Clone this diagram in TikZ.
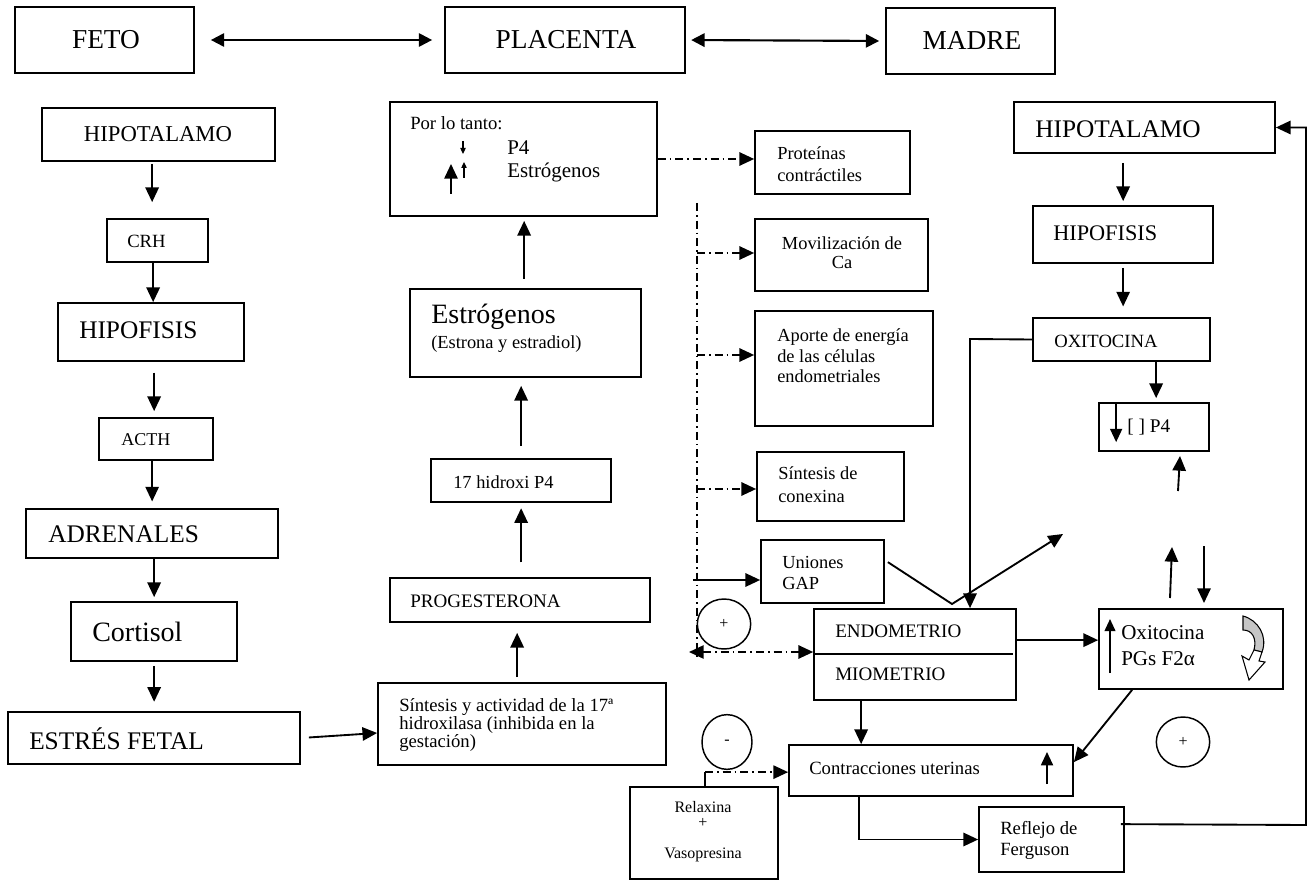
\documentclass[tikz,border=0pt]{standalone}
\usepackage{fontspec}
\setmainfont{Liberation Serif}
\usetikzlibrary{arrows.meta,fit,calc,shapes.geometric}
\newcommand\myfs[2]{\fontsize{#1}{#2}\selectfont}
\tikzset{
  box/.style={draw, line width=1.3pt, inner sep=0pt},
  arr/.style={line width=1.4pt, -{Triangle[length=11pt,width=10pt]}},
  darr/.style={line width=1.6pt, {Triangle[length=10pt,width=10pt]}-{Triangle[length=10pt,width=10pt]}},
  dd/.style={line width=1.2pt, dash pattern=on 6pt off 3pt on 1.2pt off 3pt},
  dda/.style={dd, -{Triangle[length=11pt,width=10pt]}},
  ddb/.style={dd, {Triangle[length=11pt,width=10pt]}-{Triangle[length=11pt,width=10pt]}},
  tx/.style={inner sep=0pt, anchor=west, align=left},
  tc/.style={inner sep=0pt, align=center},
  sign/.style={ellipse, draw, line width=1.1pt, inner sep=0pt, font={\myfs{12}{14}}},
}
\begin{document}
\begin{tikzpicture}[x=0.75pt, y=-0.75pt]
\useasboundingbox (0,0) rectangle (1313,880);

% ---------- top row ----------
\node[box, fit={(15,7)(194,73)}] (feto) {};
\node[tc, font={\myfs{20.5}{24}}] at (106,40) {FETO};
\node[box, fit={(445,7)(685,73)}] (plac) {};
\node[tc, font={\myfs{20.5}{24}}] at (566,40) {PLACENTA};
\node[box, fit={(886,8)(1055,74)}] (madre) {};
\node[tc, font={\myfs{20.5}{24}}] at (972,41) {MADRE};
\draw[darr, shorten <=12pt, shorten >=9pt] (feto.east) -- (plac.west);
\draw[darr, shorten <=4pt, shorten >=4.5pt] (plac.east) -- (madre.west);

% ---------- left column (feto) ----------
\node[box, fit={(42,108)(275,161)}] (hipL) {};
\node[tc, font={\myfs{17}{20}}] at (158,134) {HIPOTALAMO};
\node[box, fit={(107,219)(208,262)}] (crh) {};
\node[tx, font={\myfs{14}{16}}] at (127,241) {CRH};
\node[box, fit={(58,303)(244,361)}] (hipfL) {};
\node[tx, font={\myfs{19}{22}}] at (79,330) {HIPOFISIS};
\node[box, fit={(99,418)(213,460)}] (acth) {};
\node[tx, font={\myfs{13.5}{16}}] at (121,440) {ACTH};
\node[box, fit={(26,509)(278,558)}] (adren) {};
\node[tx, font={\myfs{19}{22}}] at (48,534) {ADRENALES};
\node[box, fit={(71,602)(237,661)}] (cort) {};
\node[tx, font={\myfs{21}{24}}] at (92,632) {Cortisol};
\node[box, fit={(8,712)(300,764)}] (estres) {};
\node[tx, font={\myfs{19}{22}}] at (29,739) {ESTRÉS FETAL};

\coordinate (l1) at ($(hipL.south west)+(111,0)$);
\draw[arr, shorten <=1.5pt, shorten >=12pt] (l1) -- (l1 |- crh.north);
\coordinate (l2) at ($(crh.south west)+(47,0)$);
\draw[arr] (l2) -- (l2 |- hipfL.north);
\coordinate (l3) at ($(hipfL.south west)+(97,0)$);
\draw[arr, shorten <=8pt, shorten >=4.5pt] (l3) -- (l3 |- acth.north);
\coordinate (l4) at ($(acth.south west)+(54,0)$);
\draw[arr, shorten >=5pt] (l4) -- (l4 |- adren.north);
\coordinate (l5) at ($(adren.south west)+(129,0)$);
\draw[arr, shorten >=3pt] (l5) -- (l5 |- cort.north);
\coordinate (l6) at ($(cort.south west)+(84,0)$);
\draw[arr, shorten <=3pt, shorten >=7pt] (l6) -- (l6 |- estres.north);

% ---------- centre column (placenta) ----------
\node[box, fit={(378,683)(666,765)}] (sint) {};
\node[tx, font={\myfs{14}{13.6}}] at (399,725) {Síntesis y actividad de la 17ª\\hidroxilasa (inhibida en la\\gestación)};
\node[box, fit={(390,578)(650,622)}] (prog) {};
\node[tx, font={\myfs{14.3}{16}}] at (410,601) {PROGESTERONA};
\node[box, fit={(431,459)(611,502)}] (hid) {};
\node[tx, font={\myfs{13.8}{16}}] at (453,482) {17 hidroxi P4};
\node[box, fit={(410,289)(641,377)}] (estrog) {};
\node[tx, font={\myfs{21}{24}}] at (431,317) {Estrógenos};
\node[tx, font={\myfs{13.8}{16}}] at (431,344) {(Estrona y estradiol)};
\node[box, fit={(390,102)(657,216)}] (ptanto) {};
\node[tx, font={\myfs{14}{15}}] at (410,123) {Por lo tanto:};
\node[tx, font={\myfs{15.7}{18}}] at (507,148) {P4};
\node[tx, font={\myfs{15.7}{18}}] at (507,172) {Estrógenos};
\draw[line width=0.9pt, -{Triangle[length=4.5pt,width=4pt]}] (463,141) -- (463,154);
\draw[line width=0.9pt, -{Triangle[length=4.5pt,width=4pt]}] (464,178) -- (464,162);
\draw[line width=1.4pt, -{Triangle[length=11pt,width=10pt]}] (451,194) -- (451,164);

\draw[arr, shorten <=3.75pt, shorten >=7.5pt] ($(sint.north west)+(140,0)$) -- ($(prog.south west)+(128,0)$);
\draw[arr, shorten <=11pt, shorten >=4pt] ($(prog.north west)+(132,0)$) -- ($(hid.south west)+(91,0)$);
\draw[arr, shorten <=9pt, shorten >=6pt] ($(hid.north west)+(91,0)$) -- ($(estrog.south west)+(112,0)$);
\draw[arr, shorten <=7pt, shorten >=3pt] ($(estrog.north west)+(115,0)$) -- ($(ptanto.south west)+(135,0)$);
\draw[arr, shorten <=6pt] (estres.east) -- ($(sint.west)+(0,9)$);

% ---------- effects column ----------
\node[box, fit={(755,131)(910,194)}] (prot) {};
\node[tx, font={\myfs{13.8}{16.5}}] at (777,164) {Proteínas\\contráctiles};
\node[box, fit={(755,219)(928,291)}] (movil) {};
\node[tc, font={\myfs{13.8}{14.5}}] at (842,253) {Movilización de\\Ca};
\node[box, fit={(755,311)(933,426)}] (aporte) {};
\node[tx, font={\myfs{13.8}{15.4}}] at (777,356) {Aporte de energía\\de las células\\endometriales};
\node[box, fit={(757,452)(904,521)}] (conex) {};
\node[tx, font={\myfs{13.8}{17}}] at (778,485) {Síntesis de\\conexina};
\node[box, fit={(761,540)(884,603)}] (gap) {};
\node[tx, font={\myfs{13.8}{15.5}}] at (782,573) {Uniones\\GAP};

\draw[dda] (ptanto.east) -- (ptanto.east -| prot.west);
\coordinate (vtop) at (697,203);
\coordinate (vbot) at (697,660);
\draw[dd] (vtop) -- (vbot);
\coordinate (a2) at (697,253);
\draw[dda] (a2) -- (a2 -| movil.west);
\coordinate (a3) at (697,355);
\draw[dda] (a3) -- (a3 -| aporte.west);
\coordinate (a4) at (697,489);
\draw[dda] (a4) -- (a4 -| conex.west);
\coordinate (a5) at (693,580);
\draw[arr] (a5) -- (a5 -| gap.west);

\node[sign, minimum width=40pt, minimum height=37.5pt] (cplus) at (724,624) {+};
\node[sign, minimum width=37.5pt, minimum height=41pt] (cminus) at (727,742) {-};
\node[sign, minimum width=40pt, minimum height=37.5pt] (cplus2) at (1183,742) {+};

% ---------- uterus ----------
\node[box, fit={(814,609)(1016,700)}] (endo) {};
\draw[line width=1.3pt] ($(endo.north west)+(0,46)$) -- ($(endo.north east)+(-4,46)$);
\node[tx, font={\myfs{14.3}{16}}] at (835,631) {ENDOMETRIO};
\node[tx, font={\myfs{14.3}{16}}] at (835,674) {MIOMETRIO};
\coordinate (dl) at (689,652);
\draw[ddb] (dl) -- (dl -| endo.west);

\node[box, fit={(1099,609)(1283,689)}] (oxb) {};
\node[tx, font={\myfs{15.8}{19.5}}] at (1121,646) {Oxitocina\\PGs F2α};
\draw[line width=1.3pt, -{Triangle[length=9pt,width=8pt]}] (1110,673) -- (1110,619);
\filldraw[fill=gray!45, line width=0.8pt] (1243,616) .. controls (1258,620) and (1268,636) .. (1262,652) -- (1254,650) .. controls (1257,638) and (1252,630) .. (1243,630) -- cycle;
\draw[fill=white, line width=0.8pt] (1262,652) -- (1259,661) -- (1265,662) -- (1249,680) -- (1242,656) -- (1249,660) -- (1254,650) -- cycle;

\draw[arr] ($(endo.north east)+(0,32)$) -- ($(oxb.north west)+(0,32)$);

\node[box, fit={(789,745)(1073,796)}] (contr) {};
\node[tx, font={\myfs{14}{16}}] at (809,768) {Contracciones uterinas};
\draw[line width=1.4pt, -{Triangle[length=10pt,width=9pt]}] (1047,784) -- (1047,752);
\coordinate (e1) at ($(endo.south west)+(48,0)$);
\draw[arr] (e1) -- (e1 |- contr.north);
\draw[arr] ($(oxb.south west)+(34,0)$) -- ($(contr.north east)+(0,18)$);

\node[box, fit={(630,787)(778,879)}] (relax) {};
\node[tc, font={\myfs{12}{14}}] at (703,807) {Relaxina};
\node[tc, font={\myfs{12}{14}}] at (703,823) {+};
\node[tc, font={\myfs{12}{14}}] at (703,855) {Vasopresina};
\coordinate (r1) at ($(relax.north west)+(76,0)$);
\coordinate (r2) at ($(r1)+(0,-14)$);
\draw[line width=1.2pt] (r1) -- (r2);
\draw[dda] (r2) -- (r2 -| contr.west);

\node[box, fit={(979,807)(1124,872)}] (refl) {};
\node[tx, font={\myfs{14}{15.75}}] at (1000,840) {Reflejo de\\Ferguson};
\coordinate (c1) at ($(contr.south west)+(71,0)$);
\draw[arr] (c1) |- (refl.west);

% ---------- right column (madre) ----------
\node[box, fit={(1014,102)(1275,153)}] (hipR) {};
\node[tx, font={\myfs{19}{22}}] at (1035,129) {HIPOTALAMO};
\node[box, fit={(1033,206)(1213,263)}] (hipfR) {};
\node[tx, font={\myfs{16.7}{19}}] at (1053,233) {HIPOFISIS};
\node[box, fit={(1033,318)(1210,361)}] (oxi) {};
\node[tx, font={\myfs{14}{16}}] at (1054,341) {OXITOCINA};
\node[box, fit={(1099,403)(1209,451)}] (p4) {};
\node[tx, font={\myfs{14.5}{16}}] at (1127,427) {[ ] P4};
\draw[line width=1.3pt, -{Triangle[length=10pt,width=9pt]}] ($(p4.north west)+(18,0)$) -- ($(p4.north west)+(18,40)$);

\draw[arr, shorten <=6.75pt, shorten >=3pt] ($(hipR.south west)+(110,0)$) -- ($(hipfR.north west)+(91,0)$);
\draw[arr, shorten <=3pt, shorten >=8pt] ($(hipfR.south west)+(91,0)$) -- ($(oxi.north west)+(91,0)$);
\draw[arr, shorten >=3pt] ($(oxi.south west)+(124,0)$) -- ($(p4.north west)+(58,0)$);
\coordinate (o1) at (970,339);
\draw[arr] (oxi.west) -- (o1) -- (o1 |- endo.north);

\coordinate (s1a) at (1178,491);
\coordinate (s1b) at (1180,456);
\draw[arr] (s1a) -- (s1b);
\coordinate (s2a) at (1170,598);
\coordinate (s2b) at (1172,547);
\draw[arr] (s2a) -- (s2b);
\coordinate (s3a) at (1204,546);
\coordinate (s3b) at (1204,603);
\draw[arr] (s3a) -- (s3b);

\coordinate (vv) at (952,604);
\coordinate (vend) at (1063,534);
\draw[arr] ($(gap.north east)+(3,23)$) -- (vv) -- (vend);

\coordinate (fb) at (1306,825);
\draw[arr] ($(refl.north east)+(-4,18)$) -- (fb) |- (hipR.east);
\end{tikzpicture}
\end{document}
